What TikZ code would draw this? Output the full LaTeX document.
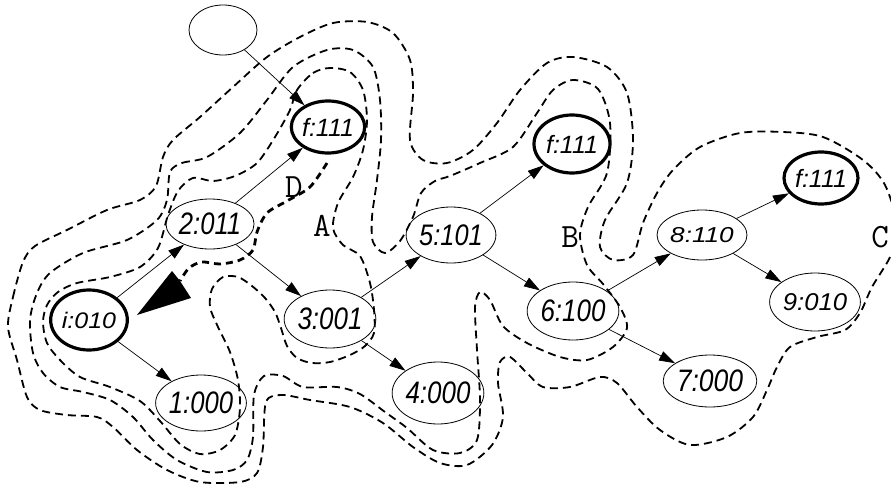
\documentclass[tikz,border=0pt]{standalone}
\usepackage{fontspec}
\setmainfont{Liberation Sans}
\usetikzlibrary{shapes.geometric,arrows.meta}
\tikzset{
  st/.style={ellipse, draw, line width=0.8pt, inner sep=0pt, font=\fontsize{27}{27}\selectfont\itshape},
  fin/.style={st, line width=3.2pt, font=\fontsize{25}{25}\selectfont\itshape},
  ed/.style={line width=0.7pt, -{Triangle[length=16pt,width=10pt]}},
  contour/.style={line width=1.8pt, dash pattern=on 8pt off 5pt},
  darr/.style={line width=2.8pt, dash pattern=on 7pt off 5pt},
  dhead/.style={fill=black},
  lab/.style={font=\ttfamily\fontsize{34}{34}\selectfont, inner sep=0pt}
}
\begin{document}
\begin{tikzpicture}[x=1pt,y=-1pt]
\useasboundingbox (0,0) rectangle (891,487);
% nodes
\node[st, minimum width=68pt, minimum height=50pt] (top) at (223,30) {};
\node[fin, minimum width=70pt, minimum height=52pt] (f1) at (328,127) {f:111};
\node[st, minimum width=74pt, minimum height=50pt] (n2) at (210,224) {\scalebox{0.95}[1.15]{2:011}};
\node[fin, minimum width=74pt, minimum height=60pt] (ni) at (89,320) {\scalebox{1}[0.9]{i:010}};
\node[st, minimum width=72pt, minimum height=56pt] (n1) at (201,403) {\scalebox{0.95}[1.15]{1:000}};
\node[st, minimum width=76pt, minimum height=58pt] (n3) at (330,319) {\scalebox{0.96}[1.15]{3:001}};
\node[st, minimum width=72pt, minimum height=62pt] (n4) at (438,393) {\scalebox{0.96}[1.15]{4:000}};
\node[st, minimum width=76pt, minimum height=56pt] (n5) at (451,235) {\scalebox{0.94}[1.1]{5:101}};
\node[fin, minimum width=76pt, minimum height=58pt] (f2) at (572,144) {f:111};
\node[st, minimum width=78pt, minimum height=58pt] (n6) at (573,311) {\scalebox{0.96}[1.15]{6:100}};
\node[st, minimum width=78pt, minimum height=52pt] (n7) at (710,381) {\scalebox{0.98}[1.15]{7:000}};
\node[st, minimum width=76pt, minimum height=50pt] (n8) at (702,235) {\scalebox{0.97}[0.8]{8:110}};
\node[fin, minimum width=74pt, minimum height=52pt] (f3) at (821,178) {f:111};
\node[st, minimum width=76pt, minimum height=58pt] (n9) at (815,302) {\scalebox{0.95}[0.9]{9:010}};
% labels
\node[lab] (la) at (322,226) {A};
\node[lab] (lb) at (570,237) {B};
\node[lab] (lc) at (880,237) {C};
\node[lab] (ld) at (294,187) {D};
% edges
\draw[ed] (top) -- (f1);
\draw[ed] (n2) -- (f1);
\draw[ed] (ni) -- (n2);
\draw[ed] (ni) -- (n1);
\draw[ed] (n2) -- (n3);
\draw[ed] (n3) -- (n5);
\draw[ed] (n3) -- (n4);
\draw[ed] (n5) -- (f2);
\draw[ed] (n5) -- (n6);
\draw[ed] (n6) -- (n8);
\draw[ed] (n6) -- (n7);
\draw[ed] (n8) -- (f3);
\draw[ed] (n8) -- (n9);
% D arrow
\coordinate (dstart) at (327,163);
\coordinate (dback) at (180,281);
\coordinate (dtip) at (137,315);
\draw[darr] plot[smooth] coordinates {(dstart) (310,187) (287,201) (267,213) (257,232) (253,250) (240,260) (220,264) (202,262) (189,268) (dback)};
\fill[dhead] (dtip) -- (172,271) -- (dback) -- (191,298) -- cycle;
% contour A
\draw[contour] plot[smooth cycle] coordinates {(297,90) (313,73) (330,68) (350,72) (363,90) (367,120) (363,150) (353,177) (338,203) (333,228) (343,245) (360,256) (370,283) (374,310) (374,333) (365,346) (350,355) (330,362) (312,363) (297,358) (287,346) (281,328) (275,312) (265,298) (252,286) (238,277) (223,277) (212,289) (210,307) (218,327) (230,352) (238,380) (240,408) (235,435) (220,450) (200,454) (180,444) (160,421) (140,401) (110,387) (80,377) (60,360) (47,343) (43,322) (47,305) (58,292) (77,283) (110,277) (140,267) (158,248) (168,215) (178,191) (193,178) (213,181) (235,176) (257,163) (275,137) (290,110)};
% contour B
\draw[contour] plot[smooth cycle] coordinates {(170,172) (182,163) (207,157) (240,133) (267,100) (293,67) (327,50) (353,50) (373,67) (380,100) (381,140) (377,180) (372,217) (373,242) (385,253) (400,241) (413,217) (421,193) (435,181) (450,176) (480,163) (513,147) (537,113) (553,90) (573,80) (598,89) (610,123) (607,173) (588,207) (580,235) (587,265) (603,284) (620,307) (627,328) (613,347) (587,360) (560,357) (527,343) (503,326) (490,300) (480,292) (475,307) (477,350) (480,400) (477,440) (460,453) (433,450) (407,428) (385,412) (360,394) (337,387) (303,387) (283,376) (264,376) (254,395) (253,437) (247,460) (233,470) (207,472) (177,460) (153,440) (133,417) (110,400) (83,392) (60,387) (43,373) (33,353) (30,320) (37,293) (50,273) (83,253) (127,240) (157,220) (167,200)};
% contour C
\draw[contour] plot[smooth cycle] coordinates {(8,327) (13,297) (23,262) (35,246) (67,230) (107,210) (140,200) (156,186) (163,157) (173,140) (200,117) (233,87) (267,57) (300,37) (333,23) (367,22) (393,33) (410,60) (413,93) (410,140) (423,160) (447,163) (473,150) (497,123) (520,90) (547,63) (573,57) (607,67) (627,93) (633,140) (627,183) (605,220) (600,247) (613,260) (633,255) (643,223) (657,193) (673,170) (700,147) (740,133) (783,132) (823,137) (863,160) (885,185) (897,225) (891,255) (872,287) (860,313) (845,330) (817,337) (790,347) (777,367) (767,390) (753,417) (727,437) (690,445) (660,430) (637,407) (617,383) (600,377) (570,387) (543,387) (527,373) (510,357) (500,362) (498,383) (503,417) (492,445) (467,465) (440,463) (413,447) (383,423) (350,407) (310,400) (282,395) (266,402) (263,447) (257,473) (240,482) (200,482) (167,470) (137,450) (113,427) (97,417) (67,415) (40,410) (27,397) (17,360)};
\end{tikzpicture}
\end{document}
